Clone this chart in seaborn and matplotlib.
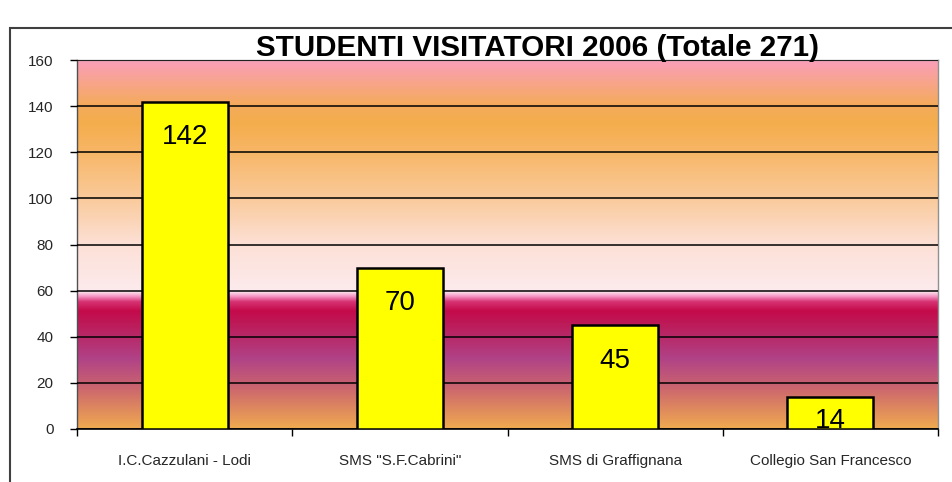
import matplotlib
matplotlib.use('Agg')
import matplotlib.pyplot as plt
import numpy as np
import seaborn as sns
from matplotlib.colors import LinearSegmentedColormap
from matplotlib.patches import Rectangle

scuole = ['I.C.Cazzulani - Lodi', 'SMS "S.F.Cabrini"', 'SMS di Graffignana', 'Collegio San Francesco']
studenti = [142, 70, 45, 14]
titolo = 'STUDENTI VISITATORI 2006 (Totale 271)'

sns.set_theme(style='white')
plt.rcParams['font.family'] = ['Liberation Sans', 'DejaVu Sans']

fig = plt.figure(figsize=(9.52, 4.82), dpi=100)
ax = fig.add_axes([77 / 952, 1 - 429 / 482, 861 / 952, 369 / 482])

# gradient background (bottom -> top)
stops = [
    (0.000, (0.94, 0.67, 0.31)),
    (0.110, (0.80, 0.40, 0.43)),
    (0.190, (0.69, 0.26, 0.53)),
    (0.270, (0.73, 0.13, 0.37)),
    (0.320, (0.77, 0.04, 0.29)),
    (0.345, (0.84, 0.20, 0.45)),
    (0.360, (0.96, 0.60, 0.78)),
    (0.373, (0.99, 0.92, 0.93)),
    (0.500, (0.99, 0.88, 0.84)),
    (0.630, (0.98, 0.79, 0.60)),
    (0.760, (0.97, 0.71, 0.39)),
    (0.830, (0.96, 0.68, 0.30)),
    (0.880, (0.96, 0.67, 0.36)),
    (1.000, (0.98, 0.62, 0.73)),
]
cmap = LinearSegmentedColormap.from_list('sfondo', stops, N=512)
grad = np.linspace(0, 1, 512).reshape(-1, 1)
ax.imshow(grad, cmap=cmap, origin='lower', aspect='auto',
          extent=[-0.5, 3.5, 0, 160], zorder=0)

sns.barplot(x=scuole, y=studenti, color='#ffff00', saturation=1,
            edgecolor='black', linewidth=1.8, width=0.4, ax=ax, zorder=3)

ax.set_xlim(-0.5, 3.5)
ax.set_ylim(0, 160)
ax.set_yticks(np.arange(0, 161, 20))
ax.yaxis.grid(True, color='black', linewidth=1.1, zorder=1)
ax.set_axisbelow(False)
for line in ax.get_ygridlines():
    line.set_zorder(1)

for i, v in enumerate(studenti):
    ax.text(i, max(v - 15.5, 3.4), str(v), ha='center', va='center',
            fontsize=20, color='black', zorder=4, clip_on=True)

ax.tick_params(axis='y', which='major', direction='out', length=5, width=1,
               color='black', labelsize=11, pad=12, left=True)
ax.tick_params(axis='x', which='major', length=0, labelsize=11, pad=18)
ax.set_xticks(np.arange(-0.5, 3.6, 1), minor=True)
ax.tick_params(axis='x', which='minor', direction='out', length=5, width=1,
               color='black', bottom=True)

for s in ['top', 'right']:
    ax.spines[s].set_visible(True)
    ax.spines[s].set_color('#909090')
    ax.spines[s].set_linewidth(1)
ax.spines['left'].set_color('#505050')
ax.spines['left'].set_linewidth(1)
ax.spines['bottom'].set_color('black')
ax.spines['bottom'].set_linewidth(1.2)

fig.text(537 / 952, 1 - 48 / 482, titolo, ha='center', va='center',
         fontsize=21.3, fontweight='bold', color='black', zorder=5)

# chart frame (extends beyond the image on right and bottom)
fig.patches.append(Rectangle((10 / 952, -0.2), 1.2, 1.2 - 28 / 482,
                             transform=fig.transFigure, fill=False,
                             edgecolor='#404040', linewidth=1.5))

fig.savefig('out.png', dpi=100)
